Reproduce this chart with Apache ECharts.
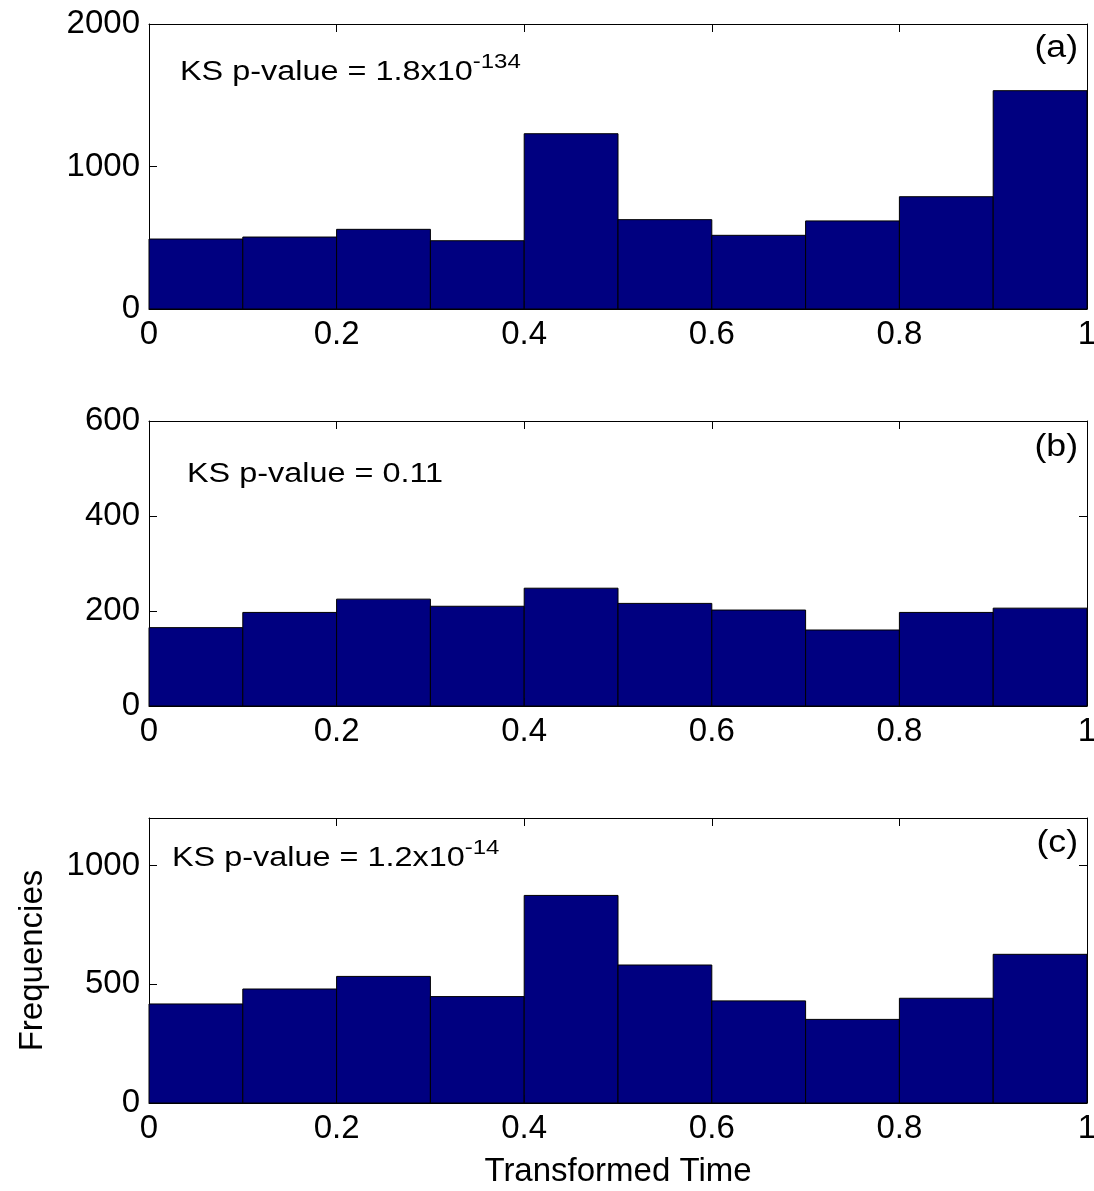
<!DOCTYPE html>
<html>
<head>
<meta charset="utf-8">
<script src="https://cdn.jsdelivr.net/npm/echarts@6/dist/echarts.min.js"></script>
<style>
  html, body { margin: 0; padding: 0; background: #fff; }
  #chart { width: 1094px; height: 1191px; }
</style>
</head>
<body>
<div id="chart"></div>
<script>
  // bin edges of the histograms (transformed time)
  var binEdges = [0, 0.1, 0.2, 0.3, 0.4, 0.5, 0.6, 0.7, 0.8, 0.9, 1];
  // frequencies
  var countsA = [491, 505, 559, 479, 1230, 627, 517, 618, 788, 1532];
  var countsB = [165, 197, 225, 210, 248, 216, 202, 160, 197, 206];
  var countsC = [417, 480, 533, 448, 874, 581, 430, 352, 441, 626];
  var yMax = [2000, 600, 1200];
  var yStep = [1000, 200, 500];
  var panelTags = ['(a)', '(b)', '(c)'];
  var pvalMain = ['KS p-value = 1.8x10', 'KS p-value = 0.11', 'KS p-value = 1.2x10'];
  var pvalExp = ['-134', '', '-14'];

  var FONT = 'Liberation Sans';
  var chart = echarts.init(document.getElementById('chart'));

  var tops = [24, 421, 818];
  var allCounts = [countsA, countsB, countsC];

  function binData(counts) {
    var out = [];
    for (var i = 0; i < counts.length; i++) {
      out.push([binEdges[i], binEdges[i + 1], counts[i]]);
    }
    return out;
  }

  function renderBin(params, api) {
    var p0 = api.coord([api.value(0), api.value(2)]);
    var p1 = api.coord([api.value(1), 0]);
    return {
      type: 'rect',
      shape: {x: p0[0], y: p0[1], width: p1[0] - p0[0], height: p1[1] - p0[1]},
      style: {fill: '#000080', stroke: '#000', lineWidth: 1}
    };
  }

  var grids = [], xAxes = [], yAxes = [], series = [], graphics = [];
  var lineStyle = {color: '#000', width: 1};

  for (var g = 0; g < 3; g++) {
    grids.push({left: 149, right: 7, top: tops[g], height: 285, outerBoundsMode: 'none'});
    xAxes.push({
      type: 'value', gridIndex: g, min: 0, max: 1, interval: 0.2,
      position: 'bottom',
      axisLine: {show: true, onZero: false, lineStyle: lineStyle},
      axisTick: {show: true, inside: true, length: 8, lineStyle: lineStyle},
      axisLabel: {color: '#000', fontFamily: FONT, fontSize: 33, margin: 9},
      splitLine: {show: false},
      name: g === 2 ? 'Transformed Time' : '',
      nameLocation: 'middle', nameGap: 52,
      nameTextStyle: {color: '#000', fontFamily: FONT, fontSize: 33}
    });
    xAxes.push({
      type: 'value', gridIndex: g, min: 0, max: 1, interval: 0.2,
      position: 'top',
      axisLine: {show: true, onZero: false, lineStyle: lineStyle},
      axisTick: {show: true, inside: true, length: 8, lineStyle: lineStyle},
      axisLabel: {show: false},
      splitLine: {show: false}
    });
    yAxes.push({
      type: 'value', gridIndex: g, min: 0, max: yMax[g], interval: yStep[g],
      position: 'left',
      axisLine: {show: true, onZero: false, lineStyle: lineStyle},
      axisTick: {show: true, inside: true, length: 8, lineStyle: lineStyle},
      axisLabel: {color: '#000', fontFamily: FONT, fontSize: 33, margin: 9,
        showMaxLabel: yMax[g] % yStep[g] === 0,
        formatter: function (v) { return String(v); }},
      splitLine: {show: false},
      name: g === 2 ? 'Frequencies' : '',
      nameLocation: 'middle', nameGap: 100,
      nameTextStyle: {color: '#000', fontFamily: FONT, fontSize: 33}
    });
    yAxes.push({
      type: 'value', gridIndex: g, min: 0, max: yMax[g], interval: yStep[g],
      position: 'right',
      axisLine: {show: true, onZero: false, lineStyle: lineStyle},
      axisTick: {show: true, inside: true, length: 8, lineStyle: lineStyle},
      axisLabel: {show: false},
      splitLine: {show: false}
    });
    series.push({
      type: 'custom',
      xAxisIndex: g * 2,
      yAxisIndex: g * 2,
      renderItem: renderBin,
      encode: {x: [0, 1], y: 2},
      data: binData(allCounts[g]),
      silent: true
    });
  }

  var annX = [180, 187, 172];
  var annY = [73, 475, 859];
  var tagY = [48, 447, 843];
  for (var k = 0; k < 3; k++) {
    var txt = '{m|' + pvalMain[k] + '}';
    if (pvalExp[k]) txt += '{s|' + pvalExp[k] + '}';
    graphics.push({
      type: 'text', x: annX[k], y: annY[k], scaleX: 1.2,
      style: {
        text: txt,
        verticalAlign: 'middle',
        rich: {
          m: {fontFamily: FONT, fontSize: 27, lineHeight: 42, fill: '#000'},
          s: {fontFamily: FONT, fontSize: 20, lineHeight: 8, verticalAlign: 'top', fill: '#000'}
        }
      }
    });
    graphics.push({
      type: 'text', x: 1078, y: tagY[k], scaleX: 1.15,
      style: {
        text: panelTags[k], fontFamily: FONT, fontSize: 31, fill: '#000',
        align: 'right', verticalAlign: 'middle'
      }
    });
  }

  chart.setOption({
    animation: false,
    backgroundColor: '#fff',
    grid: grids,
    xAxis: xAxes,
    yAxis: yAxes,
    series: series,
    graphic: graphics
  });
</script>
</body>
</html>
